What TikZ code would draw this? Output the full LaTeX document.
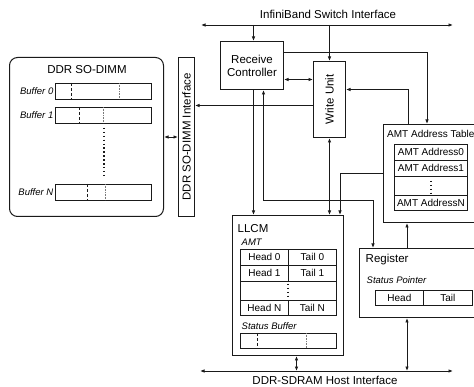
\documentclass[tikz,border=0pt]{standalone}
\usepackage{fontspec}
\setmainfont{Liberation Sans}
\usepackage{tikz}
\usetikzlibrary{calc,positioning,arrows.meta}
\definecolor{hwink} {HTML}{1A1A1A}
\definecolor{hwgrey}{HTML}{7A7A7A}
\newcommand{\hwbig}{\fontsize{11.5}{13}\selectfont}
\newcommand{\hwcell}{\fontsize{10}{11}\selectfont}
\newcommand{\hwital}{\fontsize{9.5}{11}\selectfont\itshape}

\begin{document}
\begin{tikzpicture}[x=1pt, y=-1pt, >={Latex[length=4.5pt,width=3.6pt]},
    hwbox/.style={draw=hwink, line width=1pt, inner sep=0pt, anchor=north west, font=\hwbig},
    hwcellbox/.style={draw=hwink, line width=0.8pt, inner sep=0pt, anchor=north west, font=\hwcell},
    hwlink/.style={draw=hwink, line width=0.9pt},
    hwdots/.style={hwink, line width=1.5pt, dash pattern=on 1.5pt off 2.4pt}]
  \useasboundingbox (0,0) rectangle (474,387);
  \clip (0,0) rectangle (474,387);
  % boxes
  \node[hwbox, rounded corners=8pt, minimum width=154pt, minimum height=159pt] (dimm) at (9,57) {};
  \node[font=\hwbig] (dimmtitle) at (87,70) {DDR SO-DIMM};
  \node[hwbox, minimum width=16pt, minimum height=159pt] (sodimmif) at (178,57) {\rotatebox{90}{DDR SO-DIMM Interface}};
  \node[hwbox, minimum width=63pt, minimum height=48pt, align=center] (rc) at (220,41) {Receive\\Controller};
  \node[hwbox, minimum width=32pt, minimum height=76pt] (wu) at (313,61) {\rotatebox{90}{Write Unit}};
  \node[hwbox, minimum width=97pt, minimum height=98pt] (amt) at (383,124) {};
  \node[hwbox, minimum width=111pt, minimum height=140pt] (llcm) at (232,215) {};
  \node[hwbox, minimum width=121pt, minimum height=69pt] (reg) at (359,248) {};
  % DDR SO-DIMM buffers
  \foreach \n/\y/\a/\b in {0/83/71/119, 1/107/79/103, N/184/87/105} {
    \node[hwcellbox, minimum width=96pt, minimum height=16pt] (buf\n) at (55,\y) {};
    \node[font=\hwital, anchor=east, inner sep=1.5pt] (buf\n label) at (buf\n.west) {Buffer \n};
    \draw[hwink, line width=0.6pt, densely dashed] (\a,\y) -- (\a,\y+16);
    \draw[hwgrey, line width=0.6pt, densely dotted] (\b,\y) -- (\b,\y+16);}
  \draw[hwdots] (104,128) -- (104,178);
  % AMT Address Table
  \node[font=\hwcell, anchor=west, inner sep=1pt] (amttitle) at (386,134) {AMT Address Table};
  \node[hwcellbox, minimum width=73pt, minimum height=16pt] (amta0) at (394,144) {AMT Address0};
  \node[hwcellbox, minimum width=73pt, minimum height=16pt] (amta1) at (394,160) {AMT Address1};
  \node[hwcellbox, minimum width=73pt, minimum height=19pt] (amtadots) at (394,176) {};
  \node[hwcellbox, minimum width=73pt, minimum height=15pt] (amtan) at (394,195) {AMT AddressN};
  \draw[hwdots] (431,181) -- (431,193);
  % LLCM
  \node[font=\hwbig, anchor=west, inner sep=1.5pt] (llcmtitle) at (236,229) {LLCM};
  \node[font=\hwital, anchor=west, inner sep=1.5pt] (amtlabel) at (240,242) {AMT};
  \foreach \r/\y in {0/249, 1/265} {
    \node[hwcellbox, minimum width=48pt, minimum height=16pt] (head\r) at (240,\y) {Head \r};
    \node[hwcellbox, minimum width=48pt, minimum height=16pt] (tail\r) at (288,\y) {Tail \r};}
  \node[hwcellbox, minimum width=96pt, minimum height=19pt] (htdots) at (240,281) {};
  \node[hwcellbox, minimum width=48pt, minimum height=15pt] (headN) at (240,300) {Head N};
  \node[hwcellbox, minimum width=48pt, minimum height=15pt] (tailN) at (288,300) {Tail N};
  \draw[hwdots] (288,284) -- (288,297);
  \node[font=\hwital, anchor=west, inner sep=1.5pt] (sblabel) at (240,326) {Status Buffer};
  \node[hwcellbox, minimum width=96pt, minimum height=15pt] (sbuf) at (240,333) {};
  \draw[hwink, line width=0.6pt, densely dashed] (257,333) -- (257,348);
  \draw[hwgrey, line width=0.6pt, densely dotted] (306,333) -- (306,348);
  % Register
  \node[font=\hwbig, anchor=west, inner sep=1.5pt] (regtitle) at (364,260) {Register};
  \node[font=\hwital, anchor=west, inner sep=1.5pt] (splabel) at (365,280) {Status Pointer};
  \node[hwcellbox, minimum width=48pt, minimum height=15pt] (sphead) at (375,290) {Head};
  \node[hwcellbox, minimum width=49pt, minimum height=15pt] (sptail) at (423,290) {Tail};
  % buses
  \coordinate (ibl) at (201,25);
  \coordinate (ibr) at (453,25);
  \coordinate (hbl) at (200,371);
  \coordinate (hbr) at (453,371);
  \draw[hwlink, <->] (ibl) -- (ibr);
  \draw[hwlink, <->] (hbl) -- (hbr);
  \node[font=\hwbig] (iblabel) at (328,14) {InfiniBand Switch Interface};
  \node[font=\hwbig] (hblabel) at (325,380) {DDR-SDRAM Host Interface};
  % connectors
  \coordinate (rcin) at ($(rc.north)+(1.5,0)$);
  \coordinate (rcdown) at ($(rc.south)+(1.5,0)$);
  \coordinate (rcup) at ($(rc.south)+(11.5,0)$);
  \coordinate (rcout) at ($(rc.east)+(0,-13)$);
  \coordinate (rcwu) at ($(rc.east)+(0,14)$);
  \coordinate (wuin) at ($(wu.east)+(0,-10)$);
  \coordinate (wuout) at ($(wu.west)+(0,6)$);
  \coordinate (amtin) at ($(amt.north west)+(44,0)$);
  \coordinate (amtout) at ($(amt.north west)+(25,0)$);
  \coordinate (amtlow) at ($(amt.south west)+(24,0)$);
  \coordinate (llcmin) at ($(llcm.north east)+(-4,0)$);
  \coordinate (llcmbus) at ($(llcm.south)+(8.5,0)$);
  \coordinate (regin) at ($(reg.north west)+(14,0)$);
  \coordinate (regup) at ($(reg.north west)+(48,0)$);
  \coordinate (regbus) at ($(reg.south west)+(48,0)$);
  \draw[hwlink, ->] (rcin |- ibl) -- (rcin);
  \draw[hwlink, ->] (wu.north |- ibl) -- (wu.north);
  \draw[hwlink, <->] (rcwu) -- (rcwu -| wu.west);
  \draw[hwlink, ->] (rcout) -| (amtin);
  \draw[hwlink, ->] (amtout) |- (wuin);
  \draw[hwlink, ->] (wuout) -- (wuout -| sodimmif.east);
  \draw[hwlink, <->] (dimm.east) -- (sodimmif.west);
  \draw[hwlink, ->] (rcdown) -- (rcdown |- llcm.north);
  \draw[hwlink, <->] (rcup) -- ++(0,110) -| (regin);
  \draw[hwlink, <->] (wu.south) -- (wu.south |- llcm.north);
  \draw[hwlink, ->] (amt.west) -| (llcmin);
  \draw[hwlink, ->] (regup) -- (amtlow);
  \draw[hwlink, <->] (llcmbus) -- (llcmbus |- hbl);
  \draw[hwlink, <->] (regbus) -- (regbus |- hbl);
\end{tikzpicture}
\end{document}
